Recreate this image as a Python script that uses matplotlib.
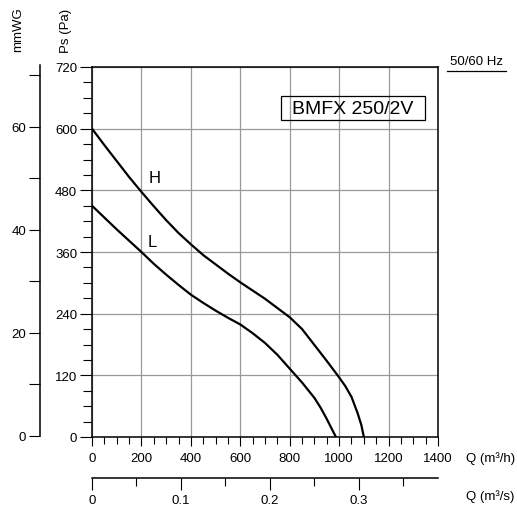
import matplotlib
matplotlib.use("Agg")
import matplotlib.pyplot as plt
from matplotlib.patches import Rectangle
from matplotlib.ticker import MultipleLocator, FixedLocator

plt.rcParams["font.family"] = ["Liberation Sans", "DejaVu Sans"]
plt.rcParams["font.size"] = 9.5

# fan curves (Q in m3/h, Ps in Pa)
q_h = [0, 50, 100, 150, 200, 250, 300, 350, 400, 450, 500, 550, 600, 650, 700,
       750, 800, 850, 900, 950, 1000, 1025, 1050, 1075, 1090, 1100]
ps_h = [600, 568, 537, 506, 477, 449, 422, 397, 375, 354, 336, 318, 301, 285, 269,
        251, 233, 210, 179, 148, 116, 99, 78, 46, 23, 0]
q_l = [0, 50, 100, 150, 200, 250, 300, 350, 400, 450, 500, 550, 600, 650, 700,
       750, 800, 850, 900, 925, 950, 970, 987]
ps_l = [450, 427, 404, 382, 360, 337, 316, 296, 277, 261, 246, 232, 219, 202, 183,
        160, 133, 106, 76, 57, 35, 16, 0]

W, H = 517, 506
fig = plt.figure(figsize=(W / 100, H / 100), dpi=100)

def fx(px): return px / W
def fy(py): return 1 - py / H

L, R, T, B = 92, 438, 68, 438
ax = fig.add_axes([fx(L), fy(B), (R - L) / W, (B - T) / H])
ax.plot(q_h, ps_h, color="black", lw=1.6)
ax.plot(q_l, ps_l, color="black", lw=1.6)
ax.set_xlim(0, 1400); ax.set_ylim(0, 720)
ax.xaxis.set_major_locator(MultipleLocator(200)); ax.xaxis.set_minor_locator(MultipleLocator(50))
ax.yaxis.set_major_locator(MultipleLocator(120)); ax.yaxis.set_minor_locator(MultipleLocator(30))
ax.grid(True, which="major", color="#999999", lw=0.9)
ax.tick_params(axis="y", which="major", direction="out", length=8.6, width=0.8, pad=2, labelsize=9.5)
ax.tick_params(axis="y", which="minor", direction="out", length=6.5, width=0.8)
ax.tick_params(axis="x", which="major", direction="out", length=6.5, width=0.8, pad=4, labelsize=9.5)
ax.tick_params(axis="x", which="minor", direction="out", length=5, width=0.8)
for s in ax.spines.values():
    s.set_linewidth(1.1)
ax.text(255, 504, "H", fontsize=12, ha="center", va="center")
ax.text(243, 381, "L", fontsize=12, ha="center", va="center")

# model box
fig.patches.append(Rectangle((fx(281), fy(121)), (425 - 281) / W, (121 - 97) / H,
                             transform=fig.transFigure, fill=False, ec="black", lw=0.9))
fig.text(fx(353), fy(109), "BMFX 250/2V", fontsize=14, ha="center", va="center")

# mmWG axis
am = fig.add_axes([fx(40), fy(437), 0.0005, (437 - 66) / H])
am.set_ylim(0, 72); am.set_xticks([])
for k in ("right", "top", "bottom"):
    am.spines[k].set_visible(False)
am.spines["left"].set_linewidth(1.1)
am.yaxis.set_major_locator(FixedLocator([0, 20, 40, 60]))
am.yaxis.set_minor_locator(FixedLocator([10, 30, 50, 70]))
am.tick_params(axis="y", which="both", direction="out", length=8, width=0.8, pad=2, labelsize=9.5)

# m3/s axis
aq = fig.add_axes([fx(L), fy(479), (R - L) / W, 0.0005])
aq.set_xlim(0, 1400 / 3600); aq.set_yticks([])
for k in ("left", "right", "top"):
    aq.spines[k].set_visible(False)
aq.spines["bottom"].set_linewidth(1.1)
aq.xaxis.set_major_locator(FixedLocator([0, 0.1, 0.2, 0.3]))
aq.xaxis.set_minor_locator(FixedLocator([0.05, 0.15, 0.25, 0.35]))
aq.set_xticklabels(["0", "0.1", "0.2", "0.3"])
aq.tick_params(axis="x", which="major", direction="out", length=8.6, width=0.8, pad=3, labelsize=9.5)
aq.tick_params(axis="x", which="minor", direction="out", length=5.8, width=0.8)

# titles / units
fig.text(fx(18), fy(30), "mmWG", rotation=90, fontsize=9.5, ha="center", va="center")
fig.text(fx(66), fy(31), "Ps (Pa)", rotation=90, fontsize=9.5, ha="center", va="center")
fig.text(fx(466), fy(459), "Q (m³/h)", fontsize=9.5, ha="left", va="center")
fig.text(fx(466), fy(497), "Q (m³/s)", fontsize=9.5, ha="left", va="center")
fig.text(fx(477), fy(62), "50/60 Hz", fontsize=9.5, ha="center", va="center")
fig.lines.append(plt.Line2D([fx(447), fx(506)], [fy(72), fy(72)], transform=fig.transFigure,
                            color="black", lw=0.9))

fig.savefig("out.png", dpi=100)
